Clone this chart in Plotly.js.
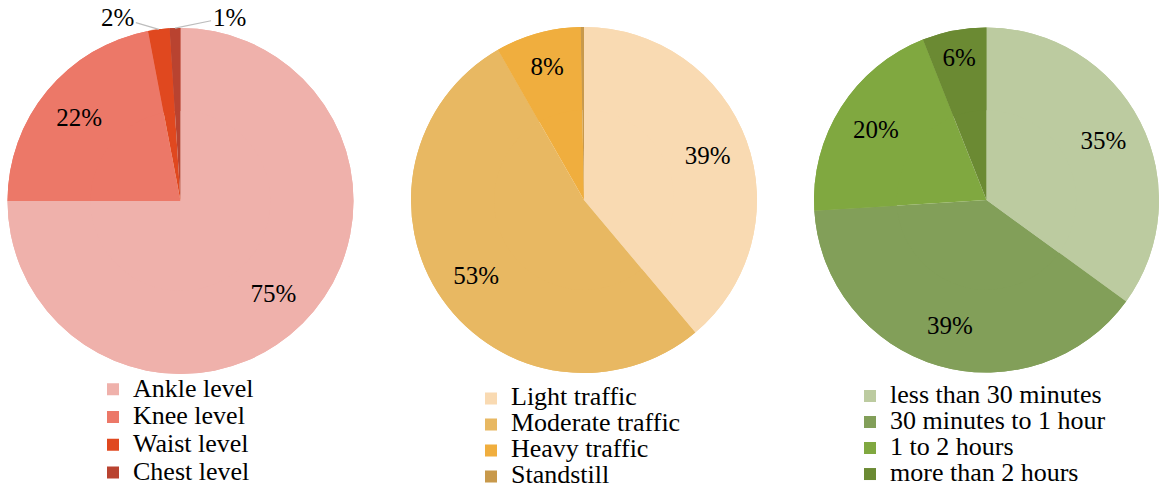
<!DOCTYPE html>
<html>
<head>
<meta charset="utf-8">
<script src="https://cdn.plot.ly/plotly-3.0.1.min.js"></script>
<style>html,body{margin:0;padding:0;background:#fff;}#chart{width:1159px;height:488px;}</style>
</head>
<body>
<div id="chart"></div>
<script>
// Chart 1: water depth
const depthLabels = ['Ankle level', 'Knee level', 'Waist level', 'Chest level'];
const depthValues = [75, 22, 2, 1];
const depthColors = ['#efb1ab', '#ec7868', '#e0481f', '#b94330'];

// Chart 2: traffic condition
const trafficLabels = ['Light traffic', 'Moderate traffic', 'Heavy traffic', 'Standstill'];
const trafficValues = [39, 53, 8, 0.3];
const trafficColors = ['#f9dab2', '#e8b862', '#f0ae3e', '#c8994b'];

// Chart 3: delay duration
const delayLabels = ['less than 30 minutes', '30 minutes to 1 hour', '1 to 2 hours', 'more than 2 hours'];
const delayValues = [35, 39, 20, 6];
const delayColors = ['#bccba0', '#829f59', '#80a840', '#6b8a33'];

const FONT = "'Liberation Serif', 'Times New Roman', serif";

function pctText(vals) {
  const s = vals.reduce((a, b) => a + b, 0);
  return vals.map(v => { const p = Math.round(100 * v / s); return p >= 1 ? p + '%' : ''; });
}
function bigLabels(labels, px) {
  return labels.map(l => '<span style="font-size:' + px + 'px">' + l + '</span>');
}

const W = 1159, H = 488;
function dx(a, b) { return [a / W, b / W]; }
function dy(top, bottom) { return [1 - bottom / H, 1 - top / H]; }

// slices of chart 1 whose labels sit outside with leader lines
const outsideSlices = [2, 3];
const outsideOffsets = [[-41, -12], [54, -11]];

const pies = [
  {labels: depthLabels, values: depthValues, colors: depthColors, domain: {x: dx(7, 354), y: dy(28, 374)}, legend: 'legend'},
  {labels: trafficLabels, values: trafficValues, colors: trafficColors, domain: {x: dx(411, 757), y: dy(27, 373)}, legend: 'legend2'},
  {labels: delayLabels, values: delayValues, colors: delayColors, domain: {x: dx(814, 1159), y: dy(27, 373)}, legend: 'legend3'}
];

const traces = [];
pies.forEach((p, k) => {
  // solid pie (carries the legend)
  traces.push({
    type: 'pie', sort: false, direction: 'clockwise', rotation: 0,
    labels: bigLabels(p.labels, 26), values: p.values,
    marker: {colors: p.colors, line: {width: 0}},
    textinfo: 'none', hoverinfo: 'label+percent',
    domain: p.domain, legend: p.legend, automargin: false
  });
});
pies.forEach((p, k) => {
  // ring overlay that carries the percentage labels in the outer band
  const txt = pctText(p.values);
  if (k === 0) outsideSlices.forEach(i => { txt[i] = ''; });
  traces.push({
    type: 'pie', sort: false, direction: 'clockwise', rotation: 0, hole: 0.52,
    labels: bigLabels(p.labels, 26), values: p.values, text: txt,
    marker: {colors: p.colors, line: {width: 0}},
    textinfo: 'text', textposition: 'inside', insidetextorientation: 'horizontal',
    textfont: {family: FONT, size: 25, color: '#000'},
    hoverinfo: 'label+percent', showlegend: false,
    domain: p.domain, legend: p.legend, automargin: false
  });
});

const legBase = {xanchor: 'left', yanchor: 'top', bgcolor: 'rgba(0,0,0,0)', borderwidth: 0, traceorder: 'normal'};
const layout = {
  width: W, height: H,
  margin: {l: 0, r: 0, t: 0, b: 0, autoexpand: false},
  paper_bgcolor: '#fff',
  font: {family: FONT, color: '#000'},
  showlegend: true,
  legend: Object.assign({}, legBase, {x: 93 / W, y: 1 - 370.5 / H, font: {family: FONT, size: 19, color: '#000'}}),
  legend2: Object.assign({}, legBase, {x: 471 / W, y: 1 - 380.5 / H, font: {family: FONT, size: 17.7, color: '#000'}}),
  legend3: Object.assign({}, legBase, {x: 850 / W, y: 1 - 378 / H, font: {family: FONT, size: 17.7, color: '#000'}})
};

Plotly.newPlot('chart', traces, layout, {displayModeBar: false, responsive: false}).then(gd => {
  const cd = gd.calcdata[0];
  const cd0 = cd[0];
  const fs = gd._fullLayout._size;
  const pct = pctText(depthValues);
  const anns = outsideSlices.map((i, j) => {
    const pt = cd[i];
    const px = cd0.cx + pt.pxmid[0];
    const py = cd0.cy + pt.pxmid[1];
    return {
      xref: 'paper', yref: 'paper',
      x: (px - fs.l) / fs.w, y: 1 - (py - fs.t) / fs.h,
      text: pct[i], showarrow: true, arrowhead: 0, arrowwidth: 1.2, arrowcolor: '#bdbdbd',
      ax: outsideOffsets[j][0], ay: outsideOffsets[j][1],
      font: {family: FONT, size: 25, color: '#000'}
    };
  });
  return Plotly.relayout(gd, {annotations: anns});
});
</script>
</body>
</html>
